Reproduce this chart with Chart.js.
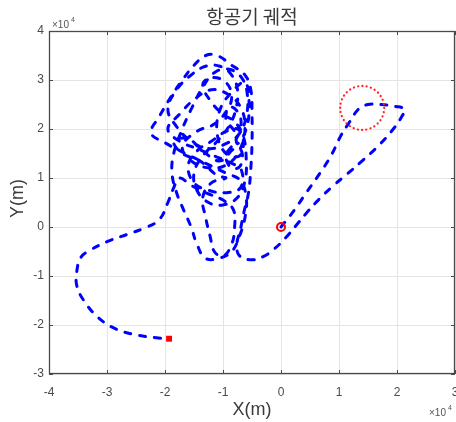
<!DOCTYPE html>
<html>
<head>
<meta charset="utf-8">
<script src="https://cdn.jsdelivr.net/npm/chart.js@4"></script>
<style>
html,body{margin:0;padding:0;background:#fff;}
#wrap{width:456px;height:422px;position:relative;}
</style>
</head>
<body>
<div id="wrap"><canvas id="c" width="456" height="422"></canvas></div>
<script>
// Values in units of 10^4 m
const titleText = '항공기 궤적';
const xLabel = 'X(m)';
const yLabel = 'Y(m)';
const xTicks = [-4, -3, -2, -1, 0, 1, 2, 3];
const yTicks = [-3, -2, -1, 0, 1, 2, 3, 4];

const trajX = [
  // origin -> hook -> back
  0, 0.22, 0.43, 0.66, 0.86, 1.03, 1.17, 1.34, 1.5, 1.7, 1.98, 2.13, 2.08, 1.95, 1.69, 1.4, 1.14, 0.88, 0.66, 0.45, 0.26, 0.08, -0.12, -0.3, -0.52,
  // loop 1
  -0.72, -0.76, -0.7, -0.64, -0.56, -0.52, -0.5, -0.5, -0.52, -0.62, -0.85, -1.1, -1.3, -1.5, -1.7, -1.9, -2.1, -2.24, -2.0, -1.65, -1.3, -0.95, -0.7,
  // loop 2
  -0.6, -0.62, -0.72, -0.85, -1.05, -1.3, -1.45, -1.55, -1.68, -1.8, -1.88, -1.85, -1.72, -1.55, -1.35, -1.15, -0.9, -0.68, -0.58, -0.6, -0.72,
  // loop 3
  -0.95, -1.25, -1.55, -1.8, -1.95, -1.8, -1.55, -1.3, -1.05, -0.85, -0.75, -0.78, -0.9, -1.1, -1.35, -1.5, -1.45, -1.25, -1.0, -0.75, -0.62, -0.6,
  -0.65, -0.8, -1.0, -1.2, -1.35, -1.2, -0.95, -0.85, -0.95, -1.15, -1.45, -1.7, -1.55, -1.2, -0.9, -0.7, -0.62,
  // loop 4
  -0.7, -0.9, -1.2, -1.5, -1.75, -1.95, -1.75, -1.45, -1.15, -0.85, -0.68, -0.7, -0.95, -1.25, -1.5, -1.6, -1.45, -1.2, -0.95, -0.75, -0.65,
  -0.72, -0.95, -1.1, -1.05, -0.85, -0.62, -0.55, -0.6, -0.75,
  // loop 6 (small curls)
  -0.8, -0.95, -0.88, -0.72, -0.7, -0.82, -0.95, -0.85, -0.7, -0.68, -0.8, -1.05, -1.35, -1.6, -1.85, -1.7, -1.4, -1.1,
  // loop 5 (lower part)
  -0.95, -1.2, -1.35, -1.3, -1.22, -1.15, -1.0, -0.85, -0.8, -0.82, -1.0, -1.3, -1.55, -1.75,
  // exit
  -1.85, -1.95, -2.1, -2.35, -2.65, -3.0, -3.3, -3.45, -3.52, -3.52, -3.4, -3.15, -2.85, -2.5, -2.15, -1.93
];
const trajY = [
  0, 0.33, 0.69, 1.08, 1.45, 1.86, 2.12, 2.41, 2.5, 2.5, 2.46, 2.4, 2.25, 2.02, 1.67, 1.35, 1.08, 0.82, 0.57, 0.3, 0.03, -0.22, -0.45, -0.6, -0.67,
  -0.58, -0.35, -0.05, 0.3, 0.7, 1.2, 1.7, 2.3, 2.8, 3.1, 3.3, 3.5, 3.5, 3.3, 3.0, 2.65, 2.25, 1.92, 1.72, 1.5, 1.3, 1.1, 0.95,
  0.6, 0.2, -0.2, -0.5, -0.63, -0.64, -0.35, 0.0, 0.35, 0.7, 1.1, 1.5, 1.95, 2.4, 2.85, 3.15, 3.22, 3.05, 2.7, 2.25, 1.9,
  1.7, 1.6, 1.75, 2.05, 2.4, 2.8, 3.1, 3.28, 3.28, 3.1, 2.8, 2.4, 2.05, 1.75, 1.45, 1.1, 0.75, 0.5, 0.45, 0.6, 0.95, 1.4,
  1.85, 2.15, 2.3, 2.55, 2.9, 3.05, 2.95, 2.65, 2.35, 2.1, 1.95, 1.65, 1.35, 1.2, 1.3, 1.6, 2.05,
  2.45, 2.7, 2.8, 2.6, 2.3, 2.0, 1.75, 1.6, 1.45, 1.3, 1.15, 0.8, 0.7, 0.75, 0.9, 1.25, 1.55, 1.75, 1.95, 2.0, 1.75,
  1.45, 1.5, 1.9, 2.4, 2.75, 2.95, 2.5, 2.0, 1.7,
  1.95, 2.2, 2.45, 2.3, 2.0, 1.7, 1.45, 1.2, 1.25, 1.55, 1.6, 1.35, 1.55, 1.8, 1.75, 1.5, 1.35, 1.05,
  1.0, 0.9, 0.6, 0.2, -0.2, -0.5, -0.6, -0.35, 0.0, 0.35, 0.55, 0.7, 0.85, 1.0,
  0.8, 0.5, 0.15, -0.02, -0.15, -0.3, -0.48, -0.62, -0.9, -1.2, -1.5, -1.85, -2.08, -2.2, -2.26, -2.28
];
const startX = [0], startY = [0];
const endX = [-1.93], endY = [-2.28];
const markX = [1.40], markY = [2.43];

const toPts = (xs, ys) => xs.map((x, i) => ({x: x, y: ys[i]}));

const fixScale = (w, h) => (scale) => {
  if (w !== null) scale.width = w;
  if (h !== null) scale.height = h;
  scale.paddingLeft = 0; scale.paddingRight = 0;
  scale.paddingTop = 0; scale.paddingBottom = 0;
};

const deco = {
  id: 'deco',
  beforeDatasetDraw(chart, args) {
    if (args.index === 2) {
      const ctx = chart.ctx;
      ctx.save();
      ctx.setLineDash([0.1, 4.2]);
      ctx.lineCap = 'round';
    }
  },
  afterDatasetDraw(chart, args) {
    if (args.index === 2) chart.ctx.restore();
  },
  afterDraw(chart) {
    const ctx = chart.ctx;
    const {left, right, top, bottom} = chart.chartArea;
    const xs = chart.scales.x, ys = chart.scales.y;
    ctx.save();
    ctx.strokeStyle = '#4a4a4a';
    ctx.lineWidth = 1.3;
    ctx.strokeRect(left + 0.5, top + 0.5, right - left - 1, bottom - top - 1);
    ctx.lineWidth = 1;
    ctx.beginPath();
    xTicks.forEach(v => {
      const p = Math.round(xs.getPixelForValue(v)) + 0.5;
      ctx.moveTo(p, bottom); ctx.lineTo(p, bottom - 4);
      ctx.moveTo(p, top); ctx.lineTo(p, top + 4);
    });
    yTicks.forEach(v => {
      const p = Math.round(ys.getPixelForValue(v)) + 0.5;
      ctx.moveTo(left, p); ctx.lineTo(left + 4, p);
      ctx.moveTo(right, p); ctx.lineTo(right - 4, p);
    });
    ctx.stroke();

    ctx.fillStyle = '#3a3a3a';
    ctx.textAlign = 'center';
    ctx.textBaseline = 'middle';
    ctx.font = '19px "Noto Sans CJK KR"';
    ctx.fillText(titleText, (left + right) / 2, 17);

    ctx.font = '18px "Liberation Sans", Arial, sans-serif';
    ctx.fillText(xLabel, (left + right) / 2, 410);
    ctx.save();
    ctx.translate(18, (top + bottom) / 2 - 4);
    ctx.rotate(-Math.PI / 2);
    ctx.fillText(yLabel, 0, 0);
    ctx.restore();

    ctx.fillStyle = '#555';
    ctx.textAlign = 'left';
    ctx.font = '10px "Liberation Sans", Arial, sans-serif';
    ctx.fillText('×10', 52, 25);
    ctx.font = '7px "Liberation Sans", Arial, sans-serif';
    ctx.fillText('4', 71, 20);
    ctx.font = '10px "Liberation Sans", Arial, sans-serif';
    ctx.fillText('×10', 429, 413);
    ctx.font = '7px "Liberation Sans", Arial, sans-serif';
    ctx.fillText('4', 448, 408);
    ctx.restore();
  }
};

new Chart(document.getElementById('c'), {
  type: 'scatter',
  data: {
    datasets: [
      {
        data: toPts(startX, startY),
        showLine: false,
        pointStyle: 'circle',
        pointRadius: 4,
        pointBorderWidth: 2,
        pointBorderColor: '#ff0000',
        pointBackgroundColor: 'rgba(0,0,0,0)'
      },
      {
        data: toPts(endX, endY),
        showLine: false,
        pointStyle: 'rect',
        pointRadius: 4.2,
        pointBorderWidth: 0,
        pointBorderColor: '#ff0000',
        pointBackgroundColor: '#ff0000'
      },
      {
        data: toPts(markX, markY),
        showLine: false,
        pointStyle: 'circle',
        pointRadius: 22,
        pointBorderWidth: 2.2,
        pointBorderColor: '#ff2020',
        pointBackgroundColor: 'rgba(0,0,0,0)'
      },
      {
        data: toPts(trajX, trajY),
        showLine: true,
        borderColor: '#0000ff',
        borderWidth: 3,
        borderDash: [6, 9],
        borderCapStyle: 'round',
        tension: 0.4,
        pointRadius: 0,
        fill: false
      }
    ]
  },
  options: {
    responsive: false,
    animation: false,
    events: [],
    layout: {autoPadding: false, padding: {top: 31, left: 0, right: 1, bottom: 0}},
    plugins: {legend: {display: false}, title: {display: false}, tooltip: {enabled: false}},
    scales: {
      x: {
        type: 'linear', min: -4, max: 3,
        afterBuildTicks: (s) => { s.ticks = xTicks.map(v => ({value: v})); },
        afterFit: fixScale(null, 48),
        grid: {color: '#e4e4e4', lineWidth: 1, drawTicks: false},
        border: {display: false},
        ticks: {padding: 11, color: '#4a4a4a', font: {family: '"Liberation Sans", Arial, sans-serif', size: 12}, maxRotation: 0, autoSkip: false}
      },
      y: {
        type: 'linear', min: -3, max: 4,
        afterBuildTicks: (s) => { s.ticks = yTicks.map(v => ({value: v})); },
        afterFit: fixScale(49, null),
        grid: {color: '#e4e4e4', lineWidth: 1, drawTicks: false},
        border: {display: false},
        ticks: {padding: 5, color: '#4a4a4a', font: {family: '"Liberation Sans", Arial, sans-serif', size: 12}, autoSkip: false}
      }
    }
  },
  plugins: [deco]
});
</script>
</body>
</html>
